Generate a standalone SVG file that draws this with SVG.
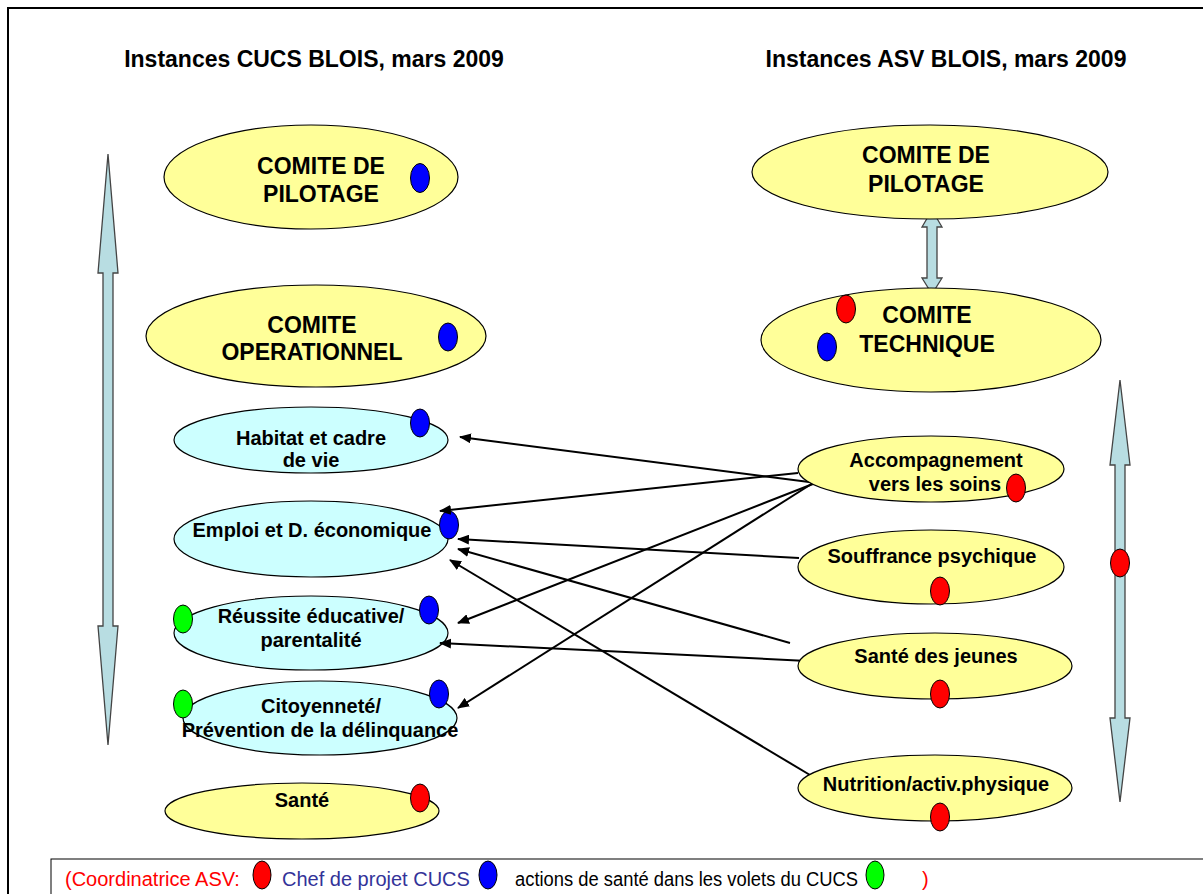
<svg xmlns="http://www.w3.org/2000/svg" width="1203" height="894" viewBox="0 0 1203 894">
  <defs>
    <style>
      .ttl { font-family: "Liberation Sans", Arial, sans-serif; font-weight: bold; font-size: 23px; fill: #000; text-anchor: middle; }
      .big { font-family: "Liberation Sans", Arial, sans-serif; font-weight: bold; font-size: 23px; fill: #000; text-anchor: middle; }
      .lbl { font-family: "Liberation Sans", Arial, sans-serif; font-weight: bold; font-size: 20px; fill: #000; text-anchor: middle; }
      .leg { font-family: "Liberation Sans", Arial, sans-serif; font-size: 20px; }
      .yel { fill: #ffff99; stroke: #000; stroke-width: 1.2; }
      .cya { fill: #ccffff; stroke: #000; stroke-width: 1.2; }
      .red { fill: #ff0000; stroke: #000; stroke-width: 1; }
      .blu { fill: #0000ff; stroke: #000; stroke-width: 1; }
      .grn { fill: #00ff00; stroke: #000; stroke-width: 1; }
      .dbl { fill: #b8dde2; stroke: #444; stroke-width: 1.3; }
      .con { fill: none; stroke: #000; stroke-width: 2; marker-end: url(#tip); }
    </style>
    <marker id="tip" viewBox="0 0 12 10" refX="11" refY="5" markerWidth="12" markerHeight="10" markerUnits="userSpaceOnUse" orient="auto">
      <path d="M0,0 L12,5 L0,10 Z" fill="#000"/>
    </marker>
  </defs>

  <rect width="1203" height="894" fill="#fff"/>
  <!-- page frame -->
  <rect x="8" y="8" width="1205" height="900" fill="none" stroke="#000" stroke-width="2"/>

  <!-- column headings -->
  <text class="ttl" x="314" y="67">Instances CUCS BLOIS, mars 2009</text>
  <text class="ttl" x="946" y="67">Instances ASV BLOIS, mars 2009</text>

  <!-- vertical double arrows -->
  <g id="arrow-left">
    <polygon class="dbl" points="108,154 118,273 113,273 113,626 118,626 108,745 98,626 103,626 103,273 98,273"/>
  </g>
  <g id="arrow-asv">
    <polygon class="dbl" points="932,210 942,227 937,227 937,278 942,278 932,294 922,278 927,278 927,227 922,227"/>
  </g>
  <g id="arrow-right">
    <polygon class="dbl" points="1120,380 1130,465 1125,465 1125,718 1130,718 1120,802 1110,718 1115,718 1115,465 1110,465"/>
    <ellipse class="red" cx="1120" cy="563" rx="9.5" ry="14"/>
  </g>

  <!-- CUCS instances -->
  <g id="cucs-pilotage">
    <ellipse class="yel" cx="311" cy="177" rx="147" ry="52"/>
    <text class="big" x="321" y="174">COMITE DE</text>
    <text class="big" x="321" y="202">PILOTAGE</text>
    <ellipse class="blu" cx="420" cy="178" rx="9.5" ry="14.5"/>
  </g>
  <g id="cucs-operationnel">
    <ellipse class="yel" cx="316" cy="336" rx="170" ry="51"/>
    <text class="big" x="312" y="333">COMITE</text>
    <text class="big" x="312" y="360">OPERATIONNEL</text>
    <ellipse class="blu" cx="448" cy="337" rx="9.5" ry="14"/>
  </g>
  <g id="habitat">
    <ellipse class="cya" cx="311" cy="440" rx="137" ry="33"/>
    <text class="lbl" x="311" y="445">Habitat et cadre</text>
    <text class="lbl" x="311" y="467">de vie</text>
    <ellipse class="blu" cx="420" cy="423" rx="9.5" ry="14"/>
  </g>
  <g id="emploi">
    <ellipse class="cya" cx="311" cy="539" rx="137" ry="38"/>
    <text class="lbl" x="312" y="537">Emploi et D. économique</text>
    <ellipse class="blu" cx="449" cy="525" rx="9.5" ry="14"/>
  </g>
  <g id="reussite">
    <ellipse class="cya" cx="311" cy="633" rx="137" ry="37"/>
    <text class="lbl" x="311" y="623">Réussite éducative/</text>
    <text class="lbl" x="311" y="647">parentalité</text>
    <ellipse class="grn" cx="183" cy="619" rx="9.5" ry="14"/>
    <ellipse class="blu" cx="429" cy="610" rx="9.5" ry="14"/>
  </g>
  <g id="citoyennete">
    <ellipse class="cya" cx="320" cy="718" rx="137" ry="37"/>
    <text class="lbl" x="321" y="713">Citoyenneté/</text>
    <text class="lbl" x="320" y="737">Prévention de la délinquance</text>
    <ellipse class="grn" cx="183" cy="704" rx="9.5" ry="14"/>
    <ellipse class="blu" cx="439" cy="694" rx="9.5" ry="14"/>
  </g>
  <g id="sante">
    <ellipse class="yel" cx="302" cy="811" rx="137" ry="28"/>
    <text class="lbl" x="302" y="807">Santé</text>
    <ellipse class="red" cx="420" cy="798" rx="9.5" ry="14"/>
  </g>

  <!-- ASV instances -->
  <g id="asv-pilotage">
    <ellipse class="yel" cx="930" cy="172" rx="178" ry="47"/>
    <text class="big" x="926" y="163">COMITE DE</text>
    <text class="big" x="926" y="192">PILOTAGE</text>
  </g>
  <g id="asv-technique">
    <ellipse class="yel" cx="931" cy="340" rx="170" ry="52"/>
    <text class="big" x="927" y="323">COMITE</text>
    <text class="big" x="927" y="352">TECHNIQUE</text>
    <ellipse class="red" cx="846" cy="309" rx="9.5" ry="14"/>
    <ellipse class="blu" cx="827" cy="347" rx="9.5" ry="14"/>
  </g>

  <!-- connectors -->
  <g id="connectors">
    <line class="con" x1="817" y1="483" x2="460" y2="437"/>
    <line class="con" x1="798" y1="473" x2="440" y2="511"/>
    <line class="con" x1="818" y1="482" x2="458" y2="623"/>
    <line class="con" x1="813" y1="483" x2="458" y2="708"/>
    <line class="con" x1="799" y1="558" x2="458" y2="539"/>
    <line class="con" x1="790" y1="643" x2="458" y2="549"/>
    <line class="con" x1="828" y1="662" x2="440" y2="643"/>
    <line class="con" x1="810" y1="775" x2="450" y2="560"/>
  </g>

  <g id="accompagnement">
    <ellipse class="yel" cx="931" cy="469" rx="133" ry="33"/>
    <text class="lbl" x="936" y="467">Accompagnement</text>
    <text class="lbl" x="935" y="491">vers les soins</text>
    <ellipse class="red" cx="1016" cy="488" rx="9.5" ry="14"/>
  </g>
  <g id="souffrance">
    <ellipse class="yel" cx="931" cy="567" rx="133" ry="37"/>
    <text class="lbl" x="932" y="563">Souffrance psychique</text>
    <ellipse class="red" cx="940" cy="591" rx="9.5" ry="14"/>
  </g>
  <g id="sante-jeunes">
    <ellipse class="yel" cx="935" cy="666" rx="137" ry="33"/>
    <text class="lbl" x="936" y="663">Santé des jeunes</text>
    <ellipse class="red" cx="940" cy="694" rx="9.5" ry="14"/>
  </g>
  <g id="nutrition">
    <ellipse class="yel" cx="935" cy="788" rx="137" ry="33"/>
    <text class="lbl" x="936" y="791">Nutrition/activ.physique</text>
    <ellipse class="red" cx="940" cy="817" rx="9.5" ry="14"/>
  </g>

  <!-- legend -->
  <g id="legend">
    <rect x="51" y="859" width="1170" height="60" fill="#fff" stroke="#000" stroke-width="1"/>
    <text class="leg" x="65" y="886" fill="#ff0000">(Coordinatrice ASV:</text>
    <ellipse class="red" cx="262" cy="875" rx="9" ry="14"/>
    <text class="leg" x="282" y="886" fill="#333399">Chef de projet CUCS</text>
    <ellipse class="blu" cx="488" cy="875" rx="9" ry="14"/>
    <text class="leg" x="515" y="886" fill="#000" textLength="343" lengthAdjust="spacingAndGlyphs">actions de santé dans les volets du CUCS</text>
    <ellipse class="grn" cx="875" cy="875" rx="9" ry="14"/>
    <text class="leg" x="922" y="886" fill="#ff0000">)</text>
  </g>
</svg>
